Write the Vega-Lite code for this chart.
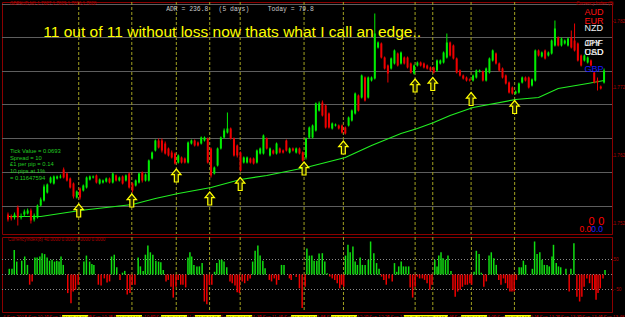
{
"$schema":"https://vega.github.io/schema/vega-lite/v6.json",
"background":"#000000",
"padding":{"left":1,"top":0,"right":0,"bottom":0},
"spacing":1,
"config":{"view":{"stroke":"#8b0000","strokeWidth":1},"text":{"font":"Liberation Sans"},"axis":{"labelFont":"Liberation Sans"}},
"datasets":{
"candles":[
{"i":0,"o":39,"h":42,"l":28.5,"c":31.5},{"i":1,"o":36,"h":39,"l":30,"c":33},{"i":2,"o":34.5,"h":42,"l":31.5,"c":39},{"i":3,"o":49.5,"h":52.5,"l":22.5,"c":34.5},{"i":4,"o":34.5,"h":40.5,"l":31.5,"c":36},{"i":5,"o":39,"h":46.5,"l":36,"c":43.5},{"i":6,"o":40.5,"h":48,"l":39,"c":45},{"i":7,"o":45,"h":48,"l":25.5,"c":30},{"i":8,"o":31.5,"h":40.5,"l":28.5,"c":37.5},{"i":9,"o":34.5,"h":54,"l":33,"c":52.5},
{"i":10,"o":52.5,"h":64.5,"l":51,"c":61.5},{"i":11,"o":60,"h":84,"l":58.5,"c":81},{"i":12,"o":72,"h":85.5,"l":70.5,"c":84},{"i":13,"o":87,"h":96,"l":85.5,"c":94.5},{"i":14,"o":85.5,"h":97.5,"l":84,"c":96},{"i":15,"o":93,"h":97.5,"l":91.5,"c":96},{"i":16,"o":94.5,"h":99,"l":93,"c":96},{"i":17,"o":106.5,"h":109.5,"l":93,"c":94.5},{"i":18,"o":100.5,"h":102,"l":88.5,"c":90},{"i":19,"o":93,"h":94.5,"l":78,"c":79.5},
{"i":20,"o":85.5,"h":87,"l":63,"c":66},{"i":21,"o":64.5,"h":75,"l":63,"c":73.5},{"i":22,"o":78,"h":79.5,"l":61.5,"c":64.5},{"i":23,"o":75,"h":84,"l":73.5,"c":82.5},{"i":24,"o":79.5,"h":96,"l":78,"c":94.5},{"i":25,"o":91.5,"h":97.5,"l":90,"c":96},{"i":26,"o":94.5,"h":97.5,"l":93,"c":96},{"i":27,"o":97.5,"h":99,"l":85.5,"c":87},{"i":28,"o":85.5,"h":93,"l":84,"c":91.5},{"i":29,"o":87,"h":91.5,"l":85.5,"c":90},
{"i":30,"o":88.5,"h":94.5,"l":87,"c":93},{"i":31,"o":93,"h":94.5,"l":85.5,"c":87},{"i":32,"o":87,"h":102,"l":85.5,"c":100.5},{"i":33,"o":97.5,"h":99,"l":88.5,"c":90},{"i":34,"o":90,"h":96,"l":88.5,"c":94.5},{"i":35,"o":96,"h":97.5,"l":84,"c":85.5},{"i":36,"o":90,"h":99,"l":88.5,"c":97.5},{"i":37,"o":100.5,"h":102,"l":78,"c":79.5},{"i":38,"o":85.5,"h":87,"l":72,"c":75},{"i":39,"o":82.5,"h":91.5,"l":81,"c":90},
{"i":40,"o":87,"h":102,"l":85.5,"c":100.5},{"i":41,"o":102,"h":103.5,"l":87,"c":90},{"i":42,"o":90,"h":100.5,"l":88.5,"c":99},{"i":43,"o":90,"h":121.5,"l":88.5,"c":120},{"i":44,"o":123,"h":133.5,"l":121.5,"c":132},{"i":45,"o":135,"h":151.5,"l":133.5,"c":150},{"i":46,"o":150,"h":153,"l":138,"c":139.5},{"i":47,"o":150,"h":153,"l":132,"c":135},{"i":48,"o":145.5,"h":148.5,"l":129,"c":130.5},{"i":49,"o":138,"h":139.5,"l":126,"c":127.5},
{"i":50,"o":132,"h":135,"l":123,"c":124.5},{"i":51,"o":130.5,"h":132,"l":114,"c":115.5},{"i":52,"o":117,"h":129,"l":115.5,"c":127.5},{"i":53,"o":124.5,"h":126,"l":115.5,"c":117},{"i":54,"o":123,"h":124.5,"l":115.5,"c":117},{"i":55,"o":117,"h":148.5,"l":115.5,"c":147},{"i":56,"o":145.5,"h":151.5,"l":144,"c":150},{"i":57,"o":150,"h":151.5,"l":141,"c":142.5},{"i":58,"o":147,"h":148.5,"l":141,"c":142.5},{"i":59,"o":145.5,"h":156,"l":144,"c":154.5},
{"i":60,"o":150,"h":156,"l":148.5,"c":154.5},{"i":61,"o":153,"h":154.5,"l":115.5,"c":117},{"i":62,"o":138,"h":139.5,"l":94.5,"c":97.5},{"i":63,"o":100.5,"h":111,"l":99,"c":109.5},{"i":64,"o":112.5,"h":139.5,"l":111,"c":138},{"i":65,"o":138,"h":156,"l":136.5,"c":154.5},{"i":66,"o":154.5,"h":168,"l":153,"c":165},{"i":67,"o":162,"h":192,"l":160.5,"c":168},{"i":68,"o":168,"h":169.5,"l":151.5,"c":153},{"i":69,"o":153,"h":154.5,"l":126,"c":127.5},
{"i":70,"o":142.5,"h":144,"l":124.5,"c":127.5},{"i":71,"o":132,"h":133.5,"l":103.5,"c":105},{"i":72,"o":117,"h":126,"l":115.5,"c":124.5},{"i":73,"o":117,"h":126,"l":115.5,"c":124.5},{"i":74,"o":123,"h":124.5,"l":115.5,"c":117},{"i":75,"o":123,"h":124.5,"l":114,"c":115.5},{"i":76,"o":117,"h":136.5,"l":115.5,"c":135},{"i":77,"o":130.5,"h":139.5,"l":129,"c":138},{"i":78,"o":130.5,"h":159,"l":129,"c":157.5},{"i":79,"o":153,"h":154.5,"l":136.5,"c":138},
{"i":80,"o":127.5,"h":139.5,"l":126,"c":138},{"i":81,"o":135,"h":136.5,"l":129,"c":130.5},{"i":82,"o":130.5,"h":147,"l":129,"c":145.5},{"i":83,"o":138,"h":139.5,"l":130.5,"c":132},{"i":84,"o":135,"h":136.5,"l":130.5,"c":132},{"i":85,"o":150,"h":151.5,"l":133.5,"c":135},{"i":86,"o":132,"h":139.5,"l":130.5,"c":138},{"i":87,"o":138,"h":139.5,"l":133.5,"c":135},{"i":88,"o":132,"h":139.5,"l":130.5,"c":138},{"i":89,"o":138,"h":139.5,"l":129,"c":130.5},
{"i":90,"o":132,"h":133.5,"l":118.5,"c":120},{"i":91,"o":124.5,"h":154.5,"l":121.5,"c":153},{"i":92,"o":154.5,"h":171,"l":153,"c":169.5},{"i":93,"o":154.5,"h":174,"l":153,"c":172.5},{"i":94,"o":165,"h":207,"l":163.5,"c":205.5},{"i":95,"o":195,"h":208.5,"l":193.5,"c":205.5},{"i":96,"o":207,"h":210,"l":186,"c":187.5},{"i":97,"o":202.5,"h":204,"l":168,"c":169.5},{"i":98,"o":190.5,"h":192,"l":168,"c":169.5},{"i":99,"o":168,"h":177,"l":166.5,"c":175.5},
{"i":100,"o":172.5,"h":175.5,"l":171,"c":174},{"i":101,"o":172.5,"h":174,"l":166.5,"c":168},{"i":102,"o":172.5,"h":174,"l":160.5,"c":162},{"i":103,"o":169.5,"h":171,"l":159,"c":160.5},{"i":104,"o":172.5,"h":186,"l":171,"c":184.5},{"i":105,"o":180,"h":196.5,"l":178.5,"c":195},{"i":106,"o":190.5,"h":222,"l":189,"c":220.5},{"i":107,"o":217.5,"h":219,"l":193.5,"c":195},{"i":108,"o":214.5,"h":249,"l":213,"c":247.5},{"i":109,"o":244.5,"h":246,"l":208.5,"c":210},
{"i":110,"o":214.5,"h":246,"l":213,"c":244.5},{"i":111,"o":240,"h":246,"l":238.5,"c":244.5},{"i":112,"o":243,"h":340.5,"l":241.5,"c":310.5},{"i":113,"o":289.5,"h":298.5,"l":288,"c":297},{"i":114,"o":295.5,"h":297,"l":273,"c":274.5},{"i":115,"o":274.5,"h":276,"l":256.5,"c":258},{"i":116,"o":262.5,"h":264,"l":237,"c":250.5},{"i":117,"o":258,"h":274.5,"l":256.5,"c":273},{"i":118,"o":265.5,"h":286.5,"l":264,"c":285},{"i":119,"o":280.5,"h":282,"l":261,"c":262.5},
{"i":120,"o":265.5,"h":283.5,"l":264,"c":282},{"i":121,"o":274.5,"h":276,"l":264,"c":265.5},{"i":122,"o":274.5,"h":276,"l":258,"c":259.5},{"i":123,"o":265.5,"h":267,"l":250.5,"c":252},{"i":124,"o":250.5,"h":264,"l":249,"c":262.5},{"i":125,"o":262.5,"h":268.5,"l":261,"c":267},{"i":126,"o":267,"h":268.5,"l":261,"c":262.5},{"i":127,"o":265.5,"h":267,"l":258,"c":259.5},{"i":128,"o":262.5,"h":264,"l":256.5,"c":258},{"i":129,"o":259.5,"h":261,"l":253.5,"c":255},
{"i":130,"o":259.5,"h":261,"l":250.5,"c":252},{"i":131,"o":255,"h":271.5,"l":253.5,"c":270},{"i":132,"o":265.5,"h":271.5,"l":264,"c":270},{"i":133,"o":267,"h":283.5,"l":265.5,"c":282},{"i":134,"o":274.5,"h":310.5,"l":273,"c":297},{"i":135,"o":297,"h":298.5,"l":276,"c":277.5},{"i":136,"o":292.5,"h":294,"l":271.5,"c":273},{"i":137,"o":273,"h":274.5,"l":250.5,"c":252},{"i":138,"o":255,"h":256.5,"l":246,"c":247.5},{"i":139,"o":247.5,"h":249,"l":241.5,"c":243},
{"i":140,"o":244.5,"h":246,"l":238.5,"c":240},{"i":141,"o":241.5,"h":243,"l":238.5,"c":240},{"i":142,"o":240,"h":249,"l":238.5,"c":247.5},{"i":143,"o":244.5,"h":256.5,"l":243,"c":255},{"i":144,"o":253.5,"h":256.5,"l":252,"c":255},{"i":145,"o":253.5,"h":255,"l":238.5,"c":240},{"i":146,"o":240,"h":259.5,"l":238.5,"c":258},{"i":147,"o":252,"h":274.5,"l":250.5,"c":273},{"i":148,"o":270,"h":286.5,"l":268.5,"c":285},{"i":149,"o":280.5,"h":282,"l":264,"c":265.5},
{"i":150,"o":265.5,"h":267,"l":253.5,"c":255},{"i":151,"o":258,"h":259.5,"l":243,"c":244.5},{"i":152,"o":247.5,"h":249,"l":234,"c":235.5},{"i":153,"o":237,"h":238.5,"l":220.5,"c":222},{"i":154,"o":229.5,"h":231,"l":219,"c":220.5},{"i":155,"o":220.5,"h":225,"l":219,"c":223.5},{"i":156,"o":222,"h":237,"l":220.5,"c":235.5},{"i":157,"o":237,"h":246,"l":235.5,"c":244.5},{"i":158,"o":244.5,"h":246,"l":238.5,"c":240},{"i":159,"o":244.5,"h":246,"l":228,"c":229.5},
{"i":160,"o":232.5,"h":243,"l":231,"c":241.5},{"i":161,"o":240,"h":286.5,"l":238.5,"c":285},{"i":162,"o":285,"h":286.5,"l":276,"c":277.5},{"i":163,"o":276,"h":283.5,"l":274.5,"c":282},{"i":164,"o":285,"h":286.5,"l":271.5,"c":273},{"i":165,"o":277.5,"h":283.5,"l":276,"c":282},{"i":166,"o":280.5,"h":301.5,"l":279,"c":300},{"i":167,"o":292.5,"h":330,"l":291,"c":318},{"i":168,"o":304.5,"h":306,"l":291,"c":292.5},{"i":169,"o":292.5,"h":304.5,"l":291,"c":303},
{"i":170,"o":295.5,"h":301.5,"l":294,"c":300},{"i":171,"o":292.5,"h":304.5,"l":291,"c":303},{"i":172,"o":304.5,"h":315,"l":288,"c":289.5},{"i":173,"o":300,"h":325.5,"l":283.5,"c":285},{"i":174,"o":295.5,"h":297,"l":268.5,"c":270},{"i":175,"o":277.5,"h":279,"l":261,"c":262.5},{"i":176,"o":270,"h":279,"l":268.5,"c":277.5},{"i":177,"o":267,"h":276,"l":265.5,"c":274.5},{"i":178,"o":270,"h":271.5,"l":261,"c":262.5},{"i":179,"o":252,"h":253.5,"l":235.5,"c":237},
{"i":180,"o":240,"h":244.5,"l":225,"c":237},{"i":181,"o":231,"h":232.5,"l":226.5,"c":228},{"i":182,"o":237,"h":258,"l":235.5,"c":255}
],
"ma":[{"i":0,"v":36},{"i":10,"v":36},{"i":22,"v":45},{"i":38,"v":54},{"i":45,"v":63},{"i":52,"v":70.5},{"i":62,"v":79.5},{"i":71,"v":91.5},{"i":79,"v":97.5},{"i":91,"v":109.5},{"i":103,"v":124.5},{"i":111,"v":142.5},{"i":120,"v":160.5},{"i":125,"v":168},{"i":130,"v":177},{"i":135,"v":187.5},{"i":142,"v":199.5},{"i":155,"v":211.5},{"i":162,"v":214.5},{"i":168,"v":228},{"i":177,"v":235.5},{"i":182,"v":240}],
"entriesI":[{"i":21.6,"v":45},{"i":37.8,"v":60},{"i":51.4,"v":97.5},{"i":61.6,"v":63},{"i":70.9,"v":84.75},{"i":90.4,"v":108},{"i":102.4,"v":139.5},{"i":124.3,"v":232.5},{"i":129.7,"v":234.75},{"i":141.4,"v":212.25},{"i":154.7,"v":200.25}],
"entriesT":[{"t":28.0,"label":"2013.09.04 10:31"},{"t":49.3,"label":"2013.09.04 10:51"},{"t":67.1,"label":"2013.09.04 11:08"},{"t":80.5,"label":"2013.09.04 11:21"},{"t":92.8,"label":"2013.09.04 11:33"},{"t":118.5,"label":"2013.09.04 11:57"},{"t":134.3,"label":"2013.09.04 12:12"},{"t":163.1,"label":"2013.09.04 12:39"},{"t":170.2,"label":"2013.09.04 12:46"},{"t":185.7,"label":"2013.09.04 13:01"},{"t":203.0,"label":"2013.09.04 13:17"}],
"hist":[
{"t":0,"h":19},{"t":1.1,"h":19},{"t":2,"h":82},{"t":3,"h":43},{"t":5,"h":46},{"t":6.2,"h":60},{"t":7.3,"h":32},{"t":8.2,"h":-34},{"t":9.2,"h":-23},{"t":10.3,"h":57},{"t":11.2,"h":57},{"t":12.3,"h":60},{"t":13.2,"h":71},{"t":14.2,"h":68},{"t":15.2,"h":57},{"t":16.2,"h":46},{"t":17.2,"h":49},{"t":18.2,"h":43},{"t":19.1,"h":46},{"t":20,"h":43},{"t":20.8,"h":60},{"t":21.7,"h":32},{"t":23.5,"h":-62},{"t":24.8,"h":-96},{"t":25.7,"h":-57},{"t":26.6,"h":-51},{"t":27.7,"h":-34},{"t":30,"h":43},{"t":31,"h":63},{"t":32.3,"h":43},{"t":33.2,"h":35},{"t":34,"h":32},{"t":35.8,"h":-34},{"t":36.9,"h":-37},{"t":38.2,"h":-13},{"t":39.3,"h":-27},{"t":40.3,"h":-23},{"t":41.1,"h":60},{"t":42.2,"h":66},{"t":43.2,"h":24},{"t":44.5,"h":-18},{"t":45.5,"h":6},{"t":46.4,"h":12},{"t":47.4,"h":-67},{"t":48.5,"h":-62},{"t":49.4,"h":-34},{"t":50.5,"h":-34},{"t":51.8,"h":57},{"t":52.7,"h":27},{"t":53.8,"h":12},{"t":54.7,"h":66},{"t":55.7,"h":97},{"t":56.7,"h":74},{"t":57.7,"h":66},{"t":58.9,"h":46},{"t":60,"h":43},{"t":60.9,"h":41},{"t":61.9,"h":15},{"t":63,"h":-23},{"t":63.9,"h":-18},{"t":65,"h":-41},{"t":65.9,"h":-77},{"t":67,"h":-41},{"t":67.9,"h":-18},{"t":68.9,"h":-34},{"t":69.8,"h":-34},{"t":70.9,"h":-43},{"t":71.8,"h":57},{"t":72.6,"h":74},{"t":73.3,"h":60},{"t":74.2,"h":32},{"t":75.4,"h":27},{"t":76.4,"h":27},{"t":77.5,"h":38},{"t":78.4,"h":-90},{"t":79.4,"h":-99},{"t":80.4,"h":-34},{"t":81.4,"h":-34},{"t":82.5,"h":9},{"t":83.4,"h":38},{"t":84.5,"h":49},{"t":85.4,"h":49},{"t":86.3,"h":43},{"t":87.4,"h":24},{"t":88.7,"h":-23},{"t":89.6,"h":-29},{"t":90.7,"h":-37},{"t":91.6,"h":-59},{"t":92.5,"h":-62},{"t":93.6,"h":-23},{"t":94.6,"h":-29},{"t":95.8,"h":-21},{"t":96.8,"h":-13},{"t":97.8,"h":43},{"t":98.8,"h":79},{"t":99.9,"h":97},{"t":100.8,"h":63},{"t":101.9,"h":46},{"t":102.8,"h":21},{"t":104.5,"h":-18},{"t":105.4,"h":-23},{"t":106.5,"h":-13},{"t":107.4,"h":-34},{"t":108.3,"h":-18},{"t":109.4,"h":32},{"t":110.4,"h":32},{"t":112.6,"h":-13},{"t":113.3,"h":-18},{"t":115.3,"h":-8},{"t":116.6,"h":-46},{"t":117.7,"h":-112},{"t":118.9,"h":-41},{"t":119.6,"h":87},{"t":120.6,"h":63},{"t":121.6,"h":63},{"t":122.5,"h":46},{"t":123.6,"h":46},{"t":124.5,"h":70},{"t":125.8,"h":71},{"t":126.8,"h":43},{"t":127.8,"h":4},{"t":128.8,"h":-7},{"t":129.8,"h":-13},{"t":130.8,"h":-18},{"t":131.8,"h":-29},{"t":132.8,"h":-46},{"t":133.6,"h":-34},{"t":134.4,"h":-41},{"t":135.1,"h":63},{"t":136.1,"h":99},{"t":137,"h":74},{"t":138.1,"h":93},{"t":139,"h":43},{"t":139.9,"h":32},{"t":141,"h":57},{"t":141.9,"h":32},{"t":143,"h":32},{"t":144.3,"h":49},{"t":145.2,"h":110},{"t":146.5,"h":71},{"t":147.6,"h":38},{"t":148.6,"h":19},{"t":149.6,"h":-7},{"t":150.5,"h":-18},{"t":151.5,"h":-34},{"t":152.6,"h":-13},{"t":153.9,"h":-23},{"t":154.8,"h":38},{"t":155.7,"h":9},{"t":156.5,"h":27},{"t":157.5,"h":43},{"t":158.4,"h":27},{"t":159.4,"h":27},{"t":160.5,"h":27},{"t":161.1,"h":-43},{"t":162.1,"h":-77},{"t":163.1,"h":-41},{"t":164,"h":-7},{"t":164.9,"h":-13},{"t":166,"h":-13},{"t":166.9,"h":-18},{"t":167.9,"h":-29},{"t":169,"h":-51},{"t":169.9,"h":-34},{"t":171,"h":49},{"t":171.9,"h":27},{"t":172.6,"h":63},{"t":173.5,"h":74},{"t":174.3,"h":54},{"t":175.3,"h":49},{"t":176.3,"h":63},{"t":177.5,"h":12},{"t":178.3,"h":-51},{"t":179.2,"h":-74},{"t":180.2,"h":-57},{"t":181.2,"h":-51},{"t":182.1,"h":-41},{"t":183.2,"h":-34},{"t":184.1,"h":-34},{"t":185.1,"h":-29},{"t":185.8,"h":-34},{"t":186.8,"h":9},{"t":187.7,"h":79},{"t":188.8,"h":68},{"t":189.7,"h":6},{"t":190.7,"h":-41},{"t":191.7,"h":-23},{"t":192.8,"h":63},{"t":193.7,"h":74},{"t":194.7,"h":54},{"t":195.7,"h":32},{"t":196.7,"h":-18},{"t":197.6,"h":-34},{"t":198.6,"h":-13},{"t":199.4,"h":-29},{"t":200.3,"h":-46},{"t":201.2,"h":-57},{"t":202,"h":-57},{"t":202.9,"h":-57},{"t":203.8,"h":-18},{"t":204.9,"h":24},{"t":205.8,"h":24},{"t":206.6,"h":46},{"t":207.5,"h":32},{"t":208.2,"h":1},{"t":210.2,"h":19},{"t":211.1,"h":110},{"t":212.1,"h":68},{"t":213.2,"h":74},{"t":214.1,"h":49},{"t":215,"h":32},{"t":216.1,"h":32},{"t":217,"h":27},{"t":218.1,"h":60},{"t":218.7,"h":99},{"t":219.8,"h":38},{"t":220.7,"h":27},{"t":221.6,"h":24},{"t":223.7,"h":19},{"t":225,"h":-57},{"t":225.7,"h":19},{"t":226.9,"h":104},{"t":228.1,"h":-74},{"t":229.2,"h":-90},{"t":230.1,"h":-74},{"t":231,"h":-41},{"t":232.1,"h":-13},{"t":233.2,"h":-29},{"t":234.3,"h":-51},{"t":235.3,"h":-51},{"t":235.8,"h":-84},{"t":236.6,"h":-62},{"t":237.5,"h":-46},{"t":238.6,"h":-13},{"t":239.4,"h":15}
],
"dates":[{"t":-0.5,"label":"4 Sep 2013"},{"t":7.9,"label":"4 Sep 10:12"},{"t":16.3,"label":"4 Sep 10:20"},{"t":24.8,"label":"4 Sep 10:28"},{"t":33.2,"label":"4 Sep 10:36"},{"t":41.6,"label":"4 Sep 10:44"},{"t":50.0,"label":"4 Sep 10:52"},{"t":58.4,"label":"4 Sep 11:00"},{"t":66.9,"label":"4 Sep 11:08"},{"t":75.3,"label":"4 Sep 11:16"},{"t":83.7,"label":"4 Sep 11:24"},{"t":92.1,"label":"4 Sep 11:32"},{"t":100.5,"label":"4 Sep 11:40"},{"t":109.0,"label":"4 Sep 11:48"},{"t":117.4,"label":"4 Sep 11:56"},{"t":125.8,"label":"4 Sep 12:04"},{"t":134.2,"label":"4 Sep 12:12"},{"t":142.6,"label":"4 Sep 12:20"},{"t":151.1,"label":"4 Sep 12:28"},{"t":159.5,"label":"4 Sep 12:36"},{"t":167.9,"label":"4 Sep 12:44"},{"t":176.3,"label":"4 Sep 12:52"},{"t":184.7,"label":"4 Sep 13:00"},{"t":193.2,"label":"4 Sep 13:08"},{"t":201.6,"label":"4 Sep 13:16"},{"t":210.0,"label":"4 Sep 13:24"},{"t":218.4,"label":"4 Sep 13:32"},{"t":226.8,"label":"4 Sep 13:40"},{"t":235.3,"label":"4 Sep 13:48"}]
},
"vconcat":[
{
"width":610,"height":232,
"layer":[
{"data":{"values":[{"level":51},{"level":102},{"level":153},{"level":204},{"level":253.5},{"level":304.5},{"level":354}]},
 "mark":{"type":"rule","color":"#5e5e5e","strokeWidth":1},
 "encoding":{"y":{"field":"level","type":"quantitative","scale":{"domain":[9.75,357.75],"zero":false,"nice":false},
  "axis":{"orient":"right","title":null,"grid":false,"values":[25.5,51,76.5,102,127.5,153,178.5,204,229,253.5,279,304.5,329,354],"labelExpr":"format(1.755 + (datum.value - 51) / 10100, '.4f')","labelColor":{"condition":{"test":"indexof([51,102,153,204,253.5,304.5,354], datum.value) >= 0","value":"#c8c8c8"},"value":"#b00000"},"labelFontSize":4.6,"labelPadding":0,"tickSize":1,"tickColor":"#8b0000","domainColor":"#8b0000"}}}},
{"data":{"name":"entriesI"},
 "mark":{"type":"rule","color":"#a0a020","strokeDash":[3,2],"strokeWidth":1},
 "encoding":{"x":{"field":"i","type":"quantitative","scale":{"domain":[-0.3,182.9],"zero":false,"nice":false},"axis":null}}},
{"data":{"name":"ma"},
 "mark":{"type":"line","color":"#22ee22","strokeWidth":1.2},
 "encoding":{"x":{"field":"i","type":"quantitative","scale":{"domain":[-0.3,182.9],"zero":false,"nice":false},"axis":null},"y":{"field":"v","type":"quantitative","scale":{"domain":[9.75,357.75],"zero":false,"nice":false}}}},
{"data":{"name":"candles"},
 "mark":{"type":"rule","strokeWidth":1},
 "encoding":{"x":{"field":"i","type":"quantitative","scale":{"domain":[-0.3,182.9],"zero":false,"nice":false},"axis":null},"y":{"field":"l","type":"quantitative","scale":{"domain":[9.75,357.75],"zero":false,"nice":false}},"y2":{"field":"h"},
  "color":{"condition":{"test":"datum.c >= datum.o","value":"#00ee00"},"value":"#ee0000"}}},
{"data":{"name":"candles"},
 "mark":{"type":"bar","size":2},
 "encoding":{"x":{"field":"i","type":"quantitative","scale":{"domain":[-0.3,182.9],"zero":false,"nice":false},"axis":null},"y":{"field":"o","type":"quantitative","scale":{"domain":[9.75,357.75],"zero":false,"nice":false}},"y2":{"field":"c"},
  "color":{"condition":{"test":"datum.c >= datum.o","value":"#00ee00"},"value":"#ee0000"}}},
{"data":{"name":"entriesI"},
 "mark":{"type":"point","shape":"M0,-1L0.72,-0.15L0.3,-0.15L0.3,1L-0.3,1L-0.3,-0.15L-0.72,-0.15Z","size":169,"filled":false,"stroke":"#ffff00","strokeWidth":1.2,"fill":"#2a2a00","fillOpacity":1,"opacity":1},
 "encoding":{"x":{"field":"i","type":"quantitative","scale":{"domain":[-0.3,182.9],"zero":false,"nice":false},"axis":null},"y":{"field":"v","type":"quantitative","scale":{"domain":[9.75,357.75],"zero":false,"nice":false}}}},
{"data":{"values":[{"i":10.8,"v":313.5,"txt":"11 out of 11 without loss  now thats what I call an edge.."}]},
 "mark":{"type":"text","align":"left","baseline":"middle","fontSize":15.5,"color":"#ffff00","font":"Liberation Sans"},
 "encoding":{"x":{"field":"i","type":"quantitative","scale":{"domain":[-0.3,182.9],"zero":false,"nice":false},"axis":null},"y":{"field":"v","type":"quantitative","scale":{"domain":[9.75,357.75],"zero":false,"nice":false}},"text":{"field":"txt"}}},
{"data":{"values":[{"i":48.3,"v":348,"txt":"ADR = 236.8"},{"i":64.3,"v":348,"txt":"(5 days)"},{"i":79.3,"v":348,"txt":"Today = 79.8"}]},
 "mark":{"type":"text","align":"left","baseline":"middle","fontSize":6.4,"color":"#c8c8c8","font":"Liberation Mono"},
 "encoding":{"x":{"field":"i","type":"quantitative","scale":{"domain":[-0.3,182.9],"zero":false,"nice":false},"axis":null},"y":{"field":"v","type":"quantitative","scale":{"domain":[9.75,357.75],"zero":false,"nice":false}},"text":{"field":"txt"}}},
{"data":{"values":[{"i":0.6,"v":134,"txt":"Tick Value = 0.0693"},{"i":0.6,"v":124,"txt":"Spread = 10"},{"i":0.6,"v":114.5,"txt":"£1 per pip = 0.14"},{"i":0.6,"v":104.5,"txt":"10 pips at 1%"},{"i":0.6,"v":94.5,"txt":"= 0.11647594"}]},
 "mark":{"type":"text","align":"left","baseline":"middle","fontSize":5.8,"color":"#22cc22","font":"Liberation Sans"},
 "encoding":{"x":{"field":"i","type":"quantitative","scale":{"domain":[-0.3,182.9],"zero":false,"nice":false},"axis":null},"y":{"field":"v","type":"quantitative","scale":{"domain":[9.75,357.75],"zero":false,"nice":false}},"text":{"field":"txt"}}},
{"data":{"values":[{"i":176.0,"v":342.75,"txt":"AUD"},{"i":176.0,"v":330,"txt":"EUR"}]},
 "mark":{"type":"text","align":"left","baseline":"middle","fontSize":9,"color":"#ff1010","font":"Liberation Sans"},
 "encoding":{"x":{"field":"i","type":"quantitative","scale":{"domain":[-0.3,182.9],"zero":false,"nice":false},"axis":null},"y":{"field":"v","type":"quantitative","scale":{"domain":[9.75,357.75],"zero":false,"nice":false}},"text":{"field":"txt"}}},
{"data":{"values":[{"i":176.0,"v":319.5,"txt":"NZD"},{"i":176.0,"v":296.25,"txt":"JPY"},{"i":176.0,"v":296.25,"txt":"CHF"},{"i":176.0,"v":283.5,"txt":"CAD"},{"i":176.0,"v":283.5,"txt":"USD"}]},
 "mark":{"type":"text","align":"left","baseline":"middle","fontSize":9,"color":"#f0f0f0","font":"Liberation Sans"},
 "encoding":{"x":{"field":"i","type":"quantitative","scale":{"domain":[-0.3,182.9],"zero":false,"nice":false},"axis":null},"y":{"field":"v","type":"quantitative","scale":{"domain":[9.75,357.75],"zero":false,"nice":false}},"text":{"field":"txt"}}},
{"data":{"values":[{"i":176.0,"v":258,"txt":"GBP"}]},
 "mark":{"type":"text","align":"left","baseline":"middle","fontSize":9,"color":"#1a1aff","font":"Liberation Sans"},
 "encoding":{"x":{"field":"i","type":"quantitative","scale":{"domain":[-0.3,182.9],"zero":false,"nice":false},"axis":null},"y":{"field":"v","type":"quantitative","scale":{"domain":[9.75,357.75],"zero":false,"nice":false}},"text":{"field":"txt"}}},
{"data":{"values":[{"i":0.6,"v":354.75,"txt":"GBPAUD,M1  1.7827 1.7829 1.7826 1.7828"},{"i":173.5,"v":354.75,"txt":"Currency Index (2)"}]},
 "mark":{"type":"text","align":"left","baseline":"middle","fontSize":4.5,"color":"#b00000","font":"Liberation Sans"},
 "encoding":{"x":{"field":"i","type":"quantitative","scale":{"domain":[-0.3,182.9],"zero":false,"nice":false},"axis":null},"y":{"field":"v","type":"quantitative","scale":{"domain":[9.75,357.75],"zero":false,"nice":false}},"text":{"field":"txt"}}},
{"data":{"values":[{"i":178.2,"v":28.5,"txt":"0"},{"i":181.2,"v":28.5,"txt":"0"}]},
 "mark":{"type":"text","align":"center","baseline":"middle","fontSize":11,"color":"#ff0000","font":"Liberation Sans"},
 "encoding":{"x":{"field":"i","type":"quantitative","scale":{"domain":[-0.3,182.9],"zero":false,"nice":false},"axis":null},"y":{"field":"v","type":"quantitative","scale":{"domain":[9.75,357.75],"zero":false,"nice":false}},"text":{"field":"txt"}}},
{"data":{"values":[{"i":174.5,"v":18,"txt":"0.0"}]},
 "mark":{"type":"text","align":"left","baseline":"middle","fontSize":8.5,"color":"#ff0000","font":"Liberation Sans"},
 "encoding":{"x":{"field":"i","type":"quantitative","scale":{"domain":[-0.3,182.9],"zero":false,"nice":false},"axis":null},"y":{"field":"v","type":"quantitative","scale":{"domain":[9.75,357.75],"zero":false,"nice":false}},"text":{"field":"txt"}}},
{"data":{"values":[{"i":178.1,"v":18,"txt":"0.0"}]},
 "mark":{"type":"text","align":"left","baseline":"middle","fontSize":8.5,"color":"#2020ff","font":"Liberation Sans"},
 "encoding":{"x":{"field":"i","type":"quantitative","scale":{"domain":[-0.3,182.9],"zero":false,"nice":false},"axis":null},"y":{"field":"v","type":"quantitative","scale":{"domain":[9.75,357.75],"zero":false,"nice":false}},"text":{"field":"txt"}}}
]
},
{
"width":610,"height":75,
"layer":[
{"data":{"values":[{"lv":50},{"lv":0},{"lv":-50}]},
 "mark":{"type":"rule","color":"#8a8a8a","strokeDash":[1,2],"strokeWidth":1},
 "encoding":{"y":{"field":"lv","type":"quantitative","scale":{"domain":[-125,125],"zero":false,"nice":false},
  "axis":{"orient":"right","title":null,"grid":false,"values":[50,0,-50],"labelExpr":"datum.value == 0 ? '0.00' : format(datum.value, 'd')","labelColor":"#b00000","labelFontSize":4.6,"labelPadding":0,"tickSize":1,"tickColor":"#8b0000","domainColor":"#8b0000"}}}},
{"data":{"name":"entriesT"},
 "mark":{"type":"rule","color":"#a0a020","strokeDash":[3,2],"strokeWidth":1},
 "encoding":{"x":{"field":"t","type":"quantitative","scale":{"domain":[-0.91,240.2],"zero":false,"nice":false},"axis":null}}},
{"data":{"name":"hist"},
 "mark":{"type":"bar","size":1.5},
 "encoding":{"x":{"field":"t","type":"quantitative","scale":{"domain":[-0.91,240.2],"zero":false,"nice":false},"axis":null},"y":{"field":"h","type":"quantitative","scale":{"domain":[-125,125],"zero":false,"nice":false}},"y2":{"datum":0},
  "color":{"condition":{"test":"datum.h >= 0","value":"#11dd11"},"value":"#ee0000"}}},
{"data":{"values":[{"t":-0.5,"h":115,"txt":"CurrencyIndex(8) 40.0000 0.0000 0.0000 0.0000"}]},
 "mark":{"type":"text","align":"left","baseline":"middle","fontSize":4.5,"color":"#b00000"},
 "encoding":{"x":{"field":"t","type":"quantitative","scale":{"domain":[-0.91,240.2],"zero":false,"nice":false},"axis":null},"y":{"field":"h","type":"quantitative","scale":{"domain":[-125,125],"zero":false,"nice":false}},"text":{"field":"txt"}}}
]
},
{
"width":610,"height":5,
"view":{"stroke":null},
"layer":[
{"data":{"name":"dates"},
 "mark":{"type":"text","align":"left","baseline":"middle","fontSize":4.6,"color":"#c00000"},
 "encoding":{"x":{"field":"t","type":"quantitative","scale":{"domain":[-0.91,240.2],"zero":false,"nice":false},"axis":null},"text":{"field":"label"}}},
{"data":{"name":"entriesT"},
 "mark":{"type":"tick","color":"#ffff00","thickness":26,"size":5,"opacity":1},
 "encoding":{"x":{"field":"t","type":"quantitative","scale":{"domain":[-0.91,240.2],"zero":false,"nice":false},"axis":null}}},
{"data":{"name":"entriesT"},
 "mark":{"type":"text","align":"center","baseline":"middle","fontSize":4,"color":"#303000"},
 "encoding":{"x":{"field":"t","type":"quantitative","scale":{"domain":[-0.91,240.2],"zero":false,"nice":false},"axis":null},"text":{"field":"label"}}}
]
}
]
}
